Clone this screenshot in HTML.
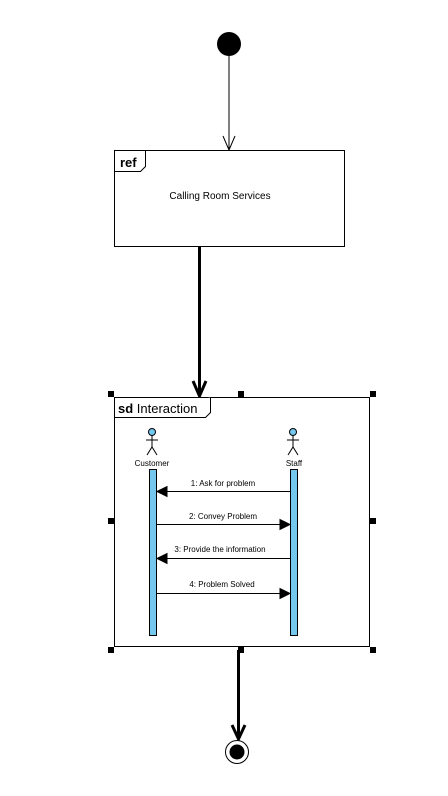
<!DOCTYPE html>
<html><head><style>body{margin:0;background:#fff}svg{display:block}</style></head><body>
<svg width="448" height="796" xmlns="http://www.w3.org/2000/svg" font-family="Liberation Sans, sans-serif">
<rect width="448" height="796" fill="#fff"/>
<circle cx="229" cy="44" r="12" fill="#000"/>
<line x1="229" y1="56" x2="229" y2="150" stroke="#000"/>
<polyline points="223,136 229,150 235,136" fill="none" stroke="#000"/>
<rect x="114.5" y="150.5" width="230" height="96" fill="#fff" stroke="#000"/>
<path d="M114.5 171.5 H140.5 L145.5 166.5 V150.5" fill="#fff" stroke="#000"/>
<text x="120" y="167" font-size="13" font-weight="bold">ref</text>
<text x="220" y="199" font-size="10" text-anchor="middle">Calling Room Services</text>
<line x1="199.5" y1="247" x2="199.5" y2="396" stroke="#000" stroke-width="3"/>
<polyline points="193,381 199.5,396 206,381" fill="none" stroke="#000" stroke-width="3"/>
<rect x="114.5" y="397.5" width="255" height="249" fill="#fff" stroke="#000"/>
<path d="M114.5 417.5 H205.5 L210.5 412.5 V397.5" fill="#fff" stroke="#000"/>
<text x="118" y="413" font-size="13"><tspan font-weight="bold">sd</tspan> Interaction</text>
<g fill="#000">
<rect x="108" y="391" width="6" height="6"/><rect x="238" y="391" width="6" height="6"/><rect x="370" y="391" width="6" height="6"/>
<rect x="108" y="518" width="6" height="6"/><rect x="370" y="518" width="6" height="6"/>
<rect x="108" y="647" width="6" height="6"/><rect x="238" y="647" width="6" height="6"/><rect x="370" y="647" width="6" height="6"/>
</g>
<g stroke="#000" fill="none">
<circle cx="152" cy="432" r="3.5" fill="#74c8ee"/>
<line x1="152" y1="436" x2="152" y2="447"/><line x1="146" y1="440" x2="158" y2="440"/>
<polyline points="147,455 152,447 157,455"/>
<circle cx="293" cy="432" r="3.5" fill="#74c8ee"/>
<line x1="293" y1="436" x2="293" y2="447"/><line x1="287" y1="440" x2="299" y2="440"/>
<polyline points="288,455 293,447 298,455"/>
</g>
<text x="152" y="466" font-size="8" text-anchor="middle">Customer</text>
<text x="294" y="466" font-size="8" text-anchor="middle">Staff</text>
<rect x="149.5" y="469.5" width="7" height="166" fill="#74c8ee" stroke="#000"/>
<rect x="290.5" y="469.5" width="7" height="166" fill="#74c8ee" stroke="#000"/>
<g stroke="#000" font-size="8">
<line x1="290" y1="491.5" x2="157" y2="491.5"/><polygon points="157,491.5 167,486.5 167,496.5" fill="#000"/>
<line x1="157" y1="524.5" x2="290" y2="524.5"/><polygon points="290,524.5 280,519.5 280,529.5" fill="#000"/>
<line x1="290" y1="558.5" x2="157" y2="558.5"/><polygon points="157,558.5 167,553.5 167,563.5" fill="#000"/>
<line x1="157" y1="593.5" x2="290" y2="593.5"/><polygon points="290,593.5 280,588.5 280,598.5" fill="#000"/>
</g>
<g font-size="8" text-anchor="middle">
<text x="223" y="486">1: Ask for problem</text>
<text x="223" y="519">2: Convey Problem</text>
<text x="220" y="552">3: Provide the information</text>
<text x="222" y="587">4: Problem Solved</text>
</g>
<line x1="238.5" y1="650" x2="238.5" y2="739" stroke="#000" stroke-width="3"/>
<polyline points="232,725 238.5,739 245,725" fill="none" stroke="#000" stroke-width="3"/>
<circle cx="237" cy="752" r="11.5" fill="#fff" stroke="#000"/>
<circle cx="237" cy="752" r="7.5" fill="#000"/>
</svg>
</body></html>
